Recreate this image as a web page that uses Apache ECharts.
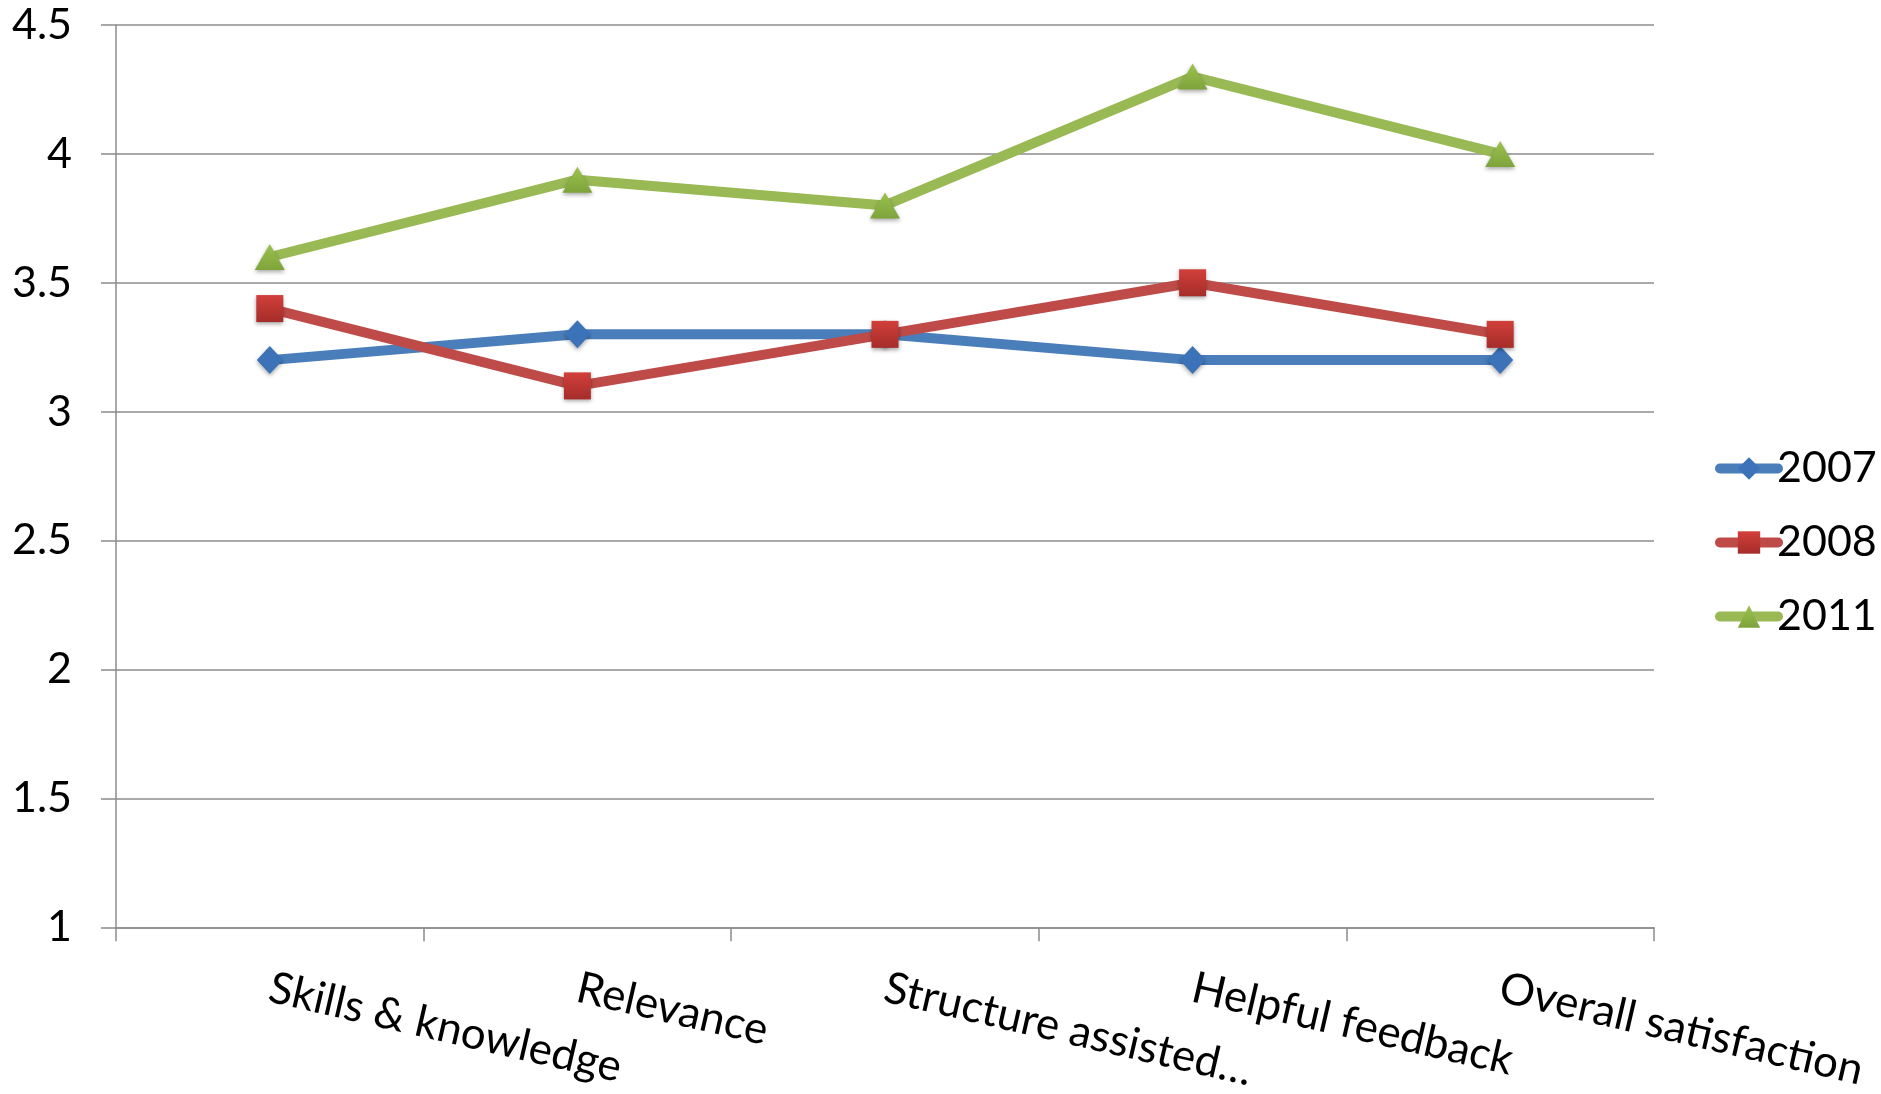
<!DOCTYPE html>
<html>
<head>
<meta charset="utf-8">
<title>Survey scores</title>
<script src="https://cdn.jsdelivr.net/npm/echarts@6/dist/echarts.min.js"></script>
<style>
  html, body { margin: 0; padding: 0; background: #fff; }
  #main { width: 1881px; height: 1094px; }
</style>
</head>
<body>
<div id="main"></div>
<script>
// categories and values
const categories = ['Skills & knowledge', 'Relevance', 'Structure assisted\u2026', 'Helpful feedback', 'Overall satisfaction'];
const years = ['2007', '2008', '2011'];
const data2007 = [3.2, 3.3, 3.3, 3.2, 3.2];
const data2008 = [3.4, 3.1, 3.3, 3.5, 3.3];
const data2011 = [3.6, 3.9, 3.8, 4.3, 4.0];

const font = 'Lato, "Open Sans", sans-serif';
const gridColor = '#8c8c8c';

const chart = echarts.init(document.getElementById('main'), null, { renderer: 'canvas' });

function makeSeries(name, data, color, symbol, size, markerColor) {
  return {
    name: name,
    type: 'line',
    data: data,
    symbol: symbol,
    symbolSize: size,
    showAllSymbol: true,
    lineStyle: { color: color, width: 10, cap: 'round', join: 'round' },
    itemStyle: {
      color: markerColor,
      shadowColor: 'rgba(0,0,0,0.35)',
      shadowBlur: 4,
      shadowOffsetY: 2
    },
    emphasis: { disabled: true },
    animation: false
  };
}

const option = {
  animation: false,
  grid: { left: 116, right: 227, top: 25, bottom: 166 },
  legend: {
    data: years,
    orient: 'vertical',
    left: 1710,
    top: 442,
    itemWidth: 58,
    itemHeight: 28,
    itemGap: 31,
    lineStyle: { width: 10, cap: 'round' },
    textStyle: { fontFamily: font, fontSize: 43, color: '#000', padding: [0, 0, 0, -6] }
  },
  xAxis: {
    type: 'category',
    data: categories,
    boundaryGap: true,
    axisLine: { lineStyle: { color: gridColor, width: 1.5 } },
    axisTick: { show: true, length: 14, lineStyle: { color: gridColor, width: 1.5 } },
    axisLabel: {
      interval: 0,
      rotate: -13,
      margin: 60,
      fontFamily: font,
      fontSize: 44,
      color: '#000'
    }
  },
  yAxis: {
    type: 'value',
    min: 1,
    max: 4.5,
    interval: 0.5,
    axisLine: { show: true, lineStyle: { color: gridColor, width: 1.5 } },
    axisTick: { show: true, length: 15, lineStyle: { color: gridColor, width: 1.5 } },
    splitLine: { lineStyle: { color: gridColor, width: 1.5 } },
    axisLabel: { fontFamily: font, fontSize: 43, color: '#000', margin: 44 }
  },
  series: [
    makeSeries('2007', data2007, '#4a7ebb', 'diamond', [26, 28], '#3b72b8'),
    makeSeries('2008', data2008, '#be4b48', 'rect', 27, {
      type: 'linear', x: 0, y: 0, x2: 0, y2: 1,
      colorStops: [{ offset: 0, color: '#d23f3a' }, { offset: 1, color: '#a52d2a' }]
    }),
    makeSeries('2011', data2011, '#98b954', 'triangle', [30, 26], {
      type: 'linear', x: 0, y: 0, x2: 0, y2: 1,
      colorStops: [{ offset: 0, color: '#9cc24f' }, { offset: 1, color: '#7ea33b' }]
    })
  ]
};

chart.setOption(option);
</script>
</body>
</html>
